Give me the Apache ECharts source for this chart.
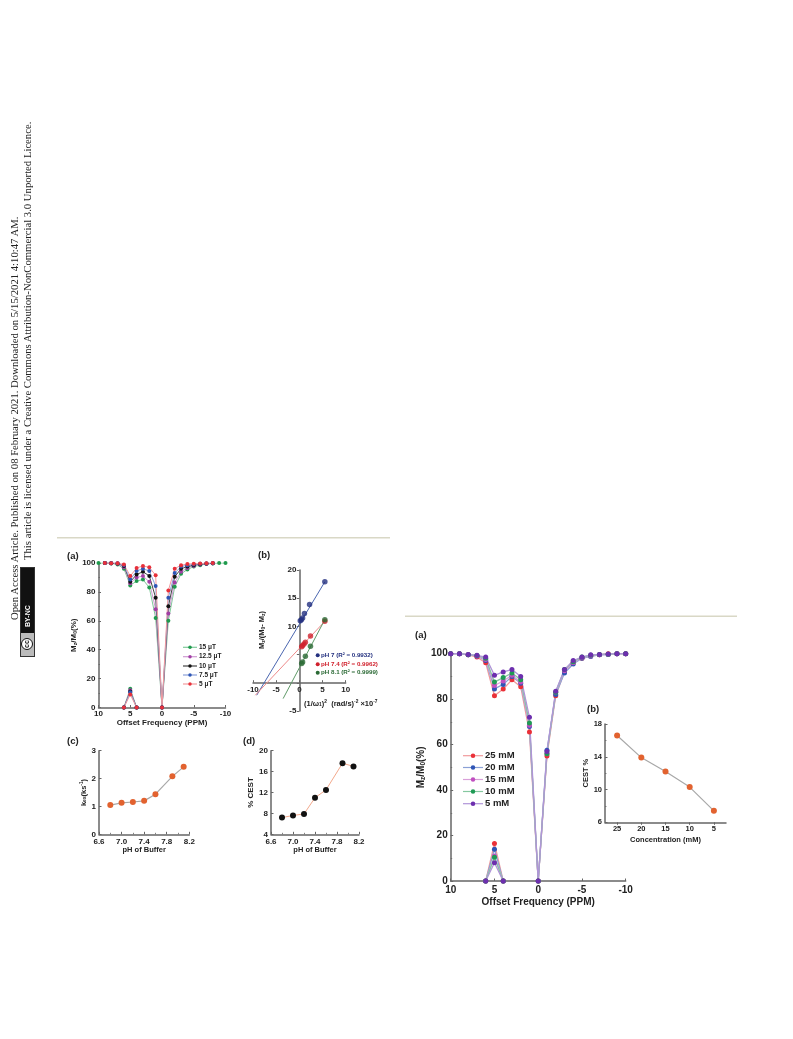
<!DOCTYPE html>
<html lang="en">
<head>
    <meta charset="UTF-8">
    <title>CEST figures</title>
    <script src="https://cdn.jsdelivr.net/npm/echarts@6/dist/echarts.min.js"></script>
    <style>
        html, body { margin: 0; padding: 0; background: #fff; }
        #container { width: 793px; height: 1039px; filter: blur(0.7px); }
        .side { position: absolute; left: 0; top: 0; white-space: nowrap; color: #222; font: 10.7px "Liberation Serif", serif; line-height: 12px; transform-origin: 0 0; }
        #line1 { transform: translate(7.5px, 620px) rotate(-90deg); }
        #line2 { transform: translate(21px, 560px) rotate(-90deg); }
        #badge { position: absolute; left: 20px; top: 567px; width: 15px; height: 90px; background: #111; box-sizing: border-box; border: 1px solid #333; }
        #badge b { position: absolute; left: 0; top: 33px; width: 13px; height: 20px; line-height: 13px; color: #fff; font: bold 7px/13px "Liberation Sans", sans-serif; text-align: left; white-space: nowrap; transform-origin: 0 0; transform: translate(0, 26px) rotate(-90deg); }
        #badge i { position: absolute; left: 0; top: 65px; width: 13px; height: 23px; background: #bbb; }
        #badge u { position: absolute; left: 0; top: 5px; width: 10px; height: 10px; border: 1.5px solid #111; border-radius: 50%; background: #fff; color: #111; text-decoration: none; font: normal 700 7px/10px "Liberation Sans", sans-serif; text-align: center; transform: rotate(-90deg); }
    </style>
</head>
<body>
<div id="container"></div>
<div class="side" id="line1">Open Access Article. Published on 08 February 2021. Downloaded on 5/15/2021 4:10:47 AM.</div>
<div class="side" id="line2">This article is licensed under a Creative Commons Attribution-NonCommercial 3.0 Unported Licence.</div>
<div id="badge"><b>BY-NC</b><i><u>cc</u></i></div>
<script>
    var FONT = '"Liberation Sans", Arial, sans-serif';

    // left figure (a), offset in ppm
    var offsets = [10, 9, 8, 7, 6, 5, 4, 3, 2, 1, 0, -1, -2, -3, -4, -5, -6, -7, -8, -9, -10];
    var spikeOffsets = [6, 5, 4];
    var uT15 = [100, 100, 99.7, 99, 96, 84.5, 87.5, 88.5, 83, 62, 0, 60, 83.5, 92.5, 95.5, 97.5, 98.5, 99.3, 99.7, 100, 100];
    var uT125 = [null, 100, 99.8, 99.5, 97, 86, 90, 91, 87, 68, 0, 65, 86.5, 94, 96.5, 98, 99, 99.5, 99.8, null, null];
    var uT10 = [null, 100, 99.8, 99.7, 98, 87, 92, 94, 91, 76, 0, 70, 90.5, 96, 97.5, 98.5, 99.2, 99.6, 99.8, null, null];
    var uT75 = [null, 100, 99.9, 99.8, 98.5, 88.5, 94.5, 96, 94.5, 84, 0, 76, 93, 97.5, 98.5, 99, 99.5, 99.7, 99.9, null, null];
    var uT5 = [null, 100, 99.9, 99.9, 99, 91, 96.5, 98, 97, 91.5, 0, 81, 96, 98.5, 99.3, 99.5, 99.7, 99.8, 100, null, null];
    var uTSpike15 = [0, 13, 0];
    var uTSpike125 = [0, 12, 0];
    var uTSpike10 = [0, 11, 0];
    var uTSpike75 = [0, 10.5, 0];
    var uTSpike5 = [0, 9, 0];

    // left figure (b), fits and points
    var ph7x = [0.2, 0.45, 0.7, 1.1, 2.2, 5.5];
    var ph7y = [11, 11.2, 11.5, 12.3, 13.9, 17.9];
    var ph74x = [0.5, 0.7, 1, 1.3, 2.4, 5.5];
    var ph74y = [6.4, 6.6, 6.9, 7.2, 8.3, 10.9];
    var ph81x = [0.5, 0.7, 1.3, 2.4, 5.5];
    var ph81y = [3.4, 3.7, 4.7, 6.5, 11.2];
    var ph7fit = [[-9.2, -2.2], [5.5, 17.9]];
    var ph74fit = [[-9.5, -2.2], [5.5, 10.9]];
    var ph81fit = [[-3.5, -2.8], [5.5, 11.2]];

    // left figures (c) and (d)
    var phBuffer = [6.8, 7.0, 7.2, 7.4, 7.6, 7.9, 8.1];
    var kex = [1.05, 1.13, 1.16, 1.2, 1.44, 2.08, 2.42];
    var cest = [7.2, 7.6, 7.9, 11, 12.5, 17.6, 17];

    // right figure (a)
    var mM25 = [100, 100, 99.5, 98.5, 96, 81.5, 84.5, 88.5, 85.5, 65.5, 0, 55, 81.5, 92, 96, 98, 99, 99.5, 100, 100, 100];
    var mM20 = [100, 100, 99.5, 99, 97, 84.5, 86.5, 90, 87, 68, 0, 57.5, 82, 91.5, 95.5, 98, 98.8, 99.5, 99.6, 100, 100];
    var mM15 = [100, 100, 99.5, 99, 97.5, 86, 88, 90.5, 87.5, 68.5, 0, 56, 83, 92.5, 96, 98.3, 99, 99.5, 99.7, 100, 100];
    var mM10 = [100, 100, 99.5, 99.2, 98, 87.5, 89.5, 91.5, 88.5, 69.5, 0, 56, 83, 93, 96.5, 98.5, 99.3, 99.6, 99.8, 100, 100];
    var mM5 = [100, 100, 99.6, 99.3, 98.5, 90.5, 92, 93, 90, 72, 0, 57, 83.5, 93, 97, 98.5, 99.5, 99.7, 99.9, 100, 100];
    var mMSpike25 = [0, 16.5, 0];
    var mMSpike20 = [0, 14, 0];
    var mMSpike15 = [0, 11, 0];
    var mMSpike10 = [0, 10.5, 0];
    var mMSpike5 = [0, 8, 0];

    // right figure (b)
    var concLabels = ['25', '20', '15', '10', '5'];
    var concCest = [16.6, 13.9, 12.2, 10.3, 7.4];

    var AXIS = '#666';
    var INK = '#222';

    function zip(xs, ys) {
        return xs.map(function (x, i) { return [x, ys[i]]; });
    }

    function axisBase(size, extra) {
        var a = {
            type: 'value',
            splitLine: { show: false },
            axisLine: { show: true, onZero: false, lineStyle: { color: AXIS, width: 1.5 } },
            axisTick: { show: true, inside: true, length: 2.5, lineStyle: { color: AXIS, width: 1 } },
            minorTick: { show: false },
            axisLabel: { color: INK, fontFamily: FONT, fontWeight: 'bold', fontSize: size, margin: 3, showMinLabel: true, showMaxLabel: true },
            nameTextStyle: { color: INK, fontFamily: FONT, fontWeight: 'bold', fontSize: size }
        };
        for (var k in extra) a[k] = extra[k];
        return a;
    }

    function minor(n) {
        return { show: true, splitNumber: n, length: 1.5, lineStyle: { color: AXIS, width: 0.8 } };
    }

    function richStyles(size) {
        return {
            t: { fill: INK, color: INK, fontFamily: FONT, fontWeight: 'bold', fontSize: size },
            s: { fill: INK, color: INK, fontFamily: FONT, fontWeight: 'bold', fontSize: size * 0.65, verticalAlign: 'bottom', padding: [size * 0.4, 0, 0, 0] },
            u: { fill: INK, color: INK, fontFamily: FONT, fontWeight: 'bold', fontSize: size * 0.65, verticalAlign: 'top', padding: [0, 0, size * 0.4, 0] }
        };
    }

    function richName(size) {
        return { color: INK, fontFamily: FONT, fontWeight: 'bold', fontSize: size, rich: richStyles(size) };
    }

    function oneDecimal(v) {
        return v.toFixed(1);
    }

    var grids = [
        { left: 98.5, top: 563, width: 127, height: 144.5 },
        { left: 253, top: 570, width: 92.7, height: 141 },
        { left: 99, top: 750.7, width: 90.3, height: 83.6 },
        { left: 271, top: 750.7, width: 88, height: 83.6 },
        { left: 450.7, top: 653.7, width: 175, height: 227.3 },
        { left: 605, top: 724, width: 121, height: 98.3 }
    ];

    var xAxes = [
        axisBase(8, {
            gridIndex: 0, min: -10, max: 10, interval: 5, inverse: true,
            axisLabel: { color: INK, fontFamily: FONT, fontWeight: 'bold', fontSize: 8, margin: 2 },
            name: 'Offset Frequency (PPM)', nameLocation: 'middle', nameGap: 11
        }),
        axisBase(8, {
            gridIndex: 1, min: -10, max: 10, interval: 5, position: 'bottom', offset: -28.3
        }),
        axisBase(7.5, {
            gridIndex: 2, min: 6.6, max: 8.2, interval: 0.4, minorTick: minor(2),
            axisLabel: { color: INK, fontFamily: FONT, fontWeight: 'bold', fontSize: 8, margin: 3, formatter: oneDecimal },
            name: 'pH of Buffer', nameLocation: 'middle', nameGap: 12
        }),
        axisBase(7.5, {
            gridIndex: 3, min: 6.6, max: 8.2, interval: 0.4, minorTick: minor(2),
            axisLabel: { color: INK, fontFamily: FONT, fontWeight: 'bold', fontSize: 8, margin: 3, formatter: oneDecimal },
            name: 'pH of Buffer', nameLocation: 'middle', nameGap: 12
        }),
        axisBase(10, {
            gridIndex: 4, min: -10, max: 10, interval: 5, inverse: true,
            axisLabel: { color: INK, fontFamily: FONT, fontWeight: 'bold', fontSize: 10, margin: 4 },
            name: 'Offset Frequency (PPM)', nameLocation: 'middle', nameGap: 16.5
        }),
        axisBase(7.5, {
            gridIndex: 5, type: 'category', data: concLabels,
            axisTick: { show: true, alignWithLabel: true, length: 2.5, lineStyle: { color: AXIS } },
            name: 'Concentration (mM)', nameLocation: 'middle', nameGap: 14
        })
    ];

    var yAxes = [
        axisBase(8, {
            gridIndex: 0, min: 0, max: 100, interval: 20, minorTick: minor(2),
            name: '{t|M}{s|z}{t|/M}{s|0}{t|(%)}', nameLocation: 'middle', nameGap: 14, nameTextStyle: richName(8)
        }),
        axisBase(8, {
            gridIndex: 1, min: -5, max: 20, interval: 5,
            position: 'left', offset: -46.35,
            axisTick: { show: true, inside: false, length: 2.5, lineStyle: { color: AXIS, width: 1 } },
            axisLabel: {
                color: INK, fontFamily: FONT, fontWeight: 'bold', fontSize: 8, margin: 3,
                formatter: function (v) { return v === 0 || v === 5 ? '' : String(v); }
            }
        }),
        axisBase(8, {
            gridIndex: 2, min: 0, max: 3, interval: 1,
            name: '{t|k}{s|ex}{t|(ks}{u|-1}{t|)}', nameLocation: 'middle', nameGap: 10, nameTextStyle: richName(7.5)
        }),
        axisBase(8, {
            gridIndex: 3, min: 4, max: 20, interval: 4,
            name: '% CEST', nameLocation: 'middle', nameGap: 14
        }),
        axisBase(10, {
            gridIndex: 4, min: 0, max: 100, interval: 20, minorTick: minor(2),
            name: '{t|M}{s|z}{t|/M}{s|0}{t|(%)}', nameLocation: 'middle', nameGap: 22, nameTextStyle: richName(10)
        }),
        axisBase(7.5, {
            gridIndex: 5, min: 6, max: 18, interval: 4, minorTick: minor(2),
            name: 'CEST %', nameLocation: 'middle', nameGap: 13
        })
    ];

    function line(name, axis, data, color, lineColor, size, width) {
        return {
            name: name, type: 'line', xAxisIndex: axis, yAxisIndex: axis, data: data,
            symbol: 'circle', symbolSize: size, showSymbol: true, connectNulls: false,
            itemStyle: { color: color },
            lineStyle: { color: lineColor, width: width },
            animation: false, z: 3
        };
    }

    var graphics = [
        { type: 'rect', shape: { x: 57, y: 537, width: 333, height: 1.6 }, style: { fill: '#d9d8c6' }, silent: true },
        { type: 'rect', shape: { x: 405, y: 615.5, width: 332, height: 1.6 }, style: { fill: '#d9d8c6' }, silent: true },
        tag('(a)', 67, 556, 9.5),
        tag('(b)', 258, 555.5, 9.5),
        tag('(c)', 67, 741, 9.5),
        tag('(d)', 243, 741, 9.5),
        tag('(a)', 415, 635, 9.5),
        tag('(b)', 587, 709, 9.5),
        {
            type: 'text', x: 262, y: 630, rotation: Math.PI / 2, silent: true,
            style: { text: '{t|M}{s|z}{t|/(M}{s|0}{t|- M}{s|z}{t|)}', rich: richStyles(7.5), align: 'center', verticalAlign: 'middle' }
        },
        {
            type: 'text', x: 304, y: 703.5, silent: true,
            style: { text: '{t|(1/ω}{s|1}{t|)}{u|2}{t|  (rad/s)}{u|-2}{t| ×10}{u|-7}', rich: richStyles(7.5), verticalAlign: 'middle' }
        }
    ];

    function tag(text, x, cy, size) {
        return { type: 'text', x: x, y: cy, silent: true,
            style: { text: text, fill: INK, font: 'bold ' + size + 'px ' + FONT, verticalAlign: 'middle' } };
    }

    // key rows are placed by hand so the text sits tight against the sample
    function keyRow(x, y, lineW, lineColor, color, size, text, fontSize, textColor) {
        if (lineW > 0) {
            graphics.push({ type: 'line', silent: true, shape: { x1: x, y1: y, x2: x + lineW, y2: y }, style: { stroke: lineColor, lineWidth: 1.2 } });
        }
        graphics.push({ type: 'circle', silent: true, z: 5, shape: { cx: x + lineW / 2, cy: y, r: size / 2 }, style: { fill: color } });
        graphics.push({ type: 'text', silent: true, x: x + lineW + (lineW > 0 ? 2 : 3.3), y: y,
            style: { text: text, fill: textColor || INK, font: 'bold ' + fontSize + 'px ' + FONT, verticalAlign: 'middle' } });
    }

    var series = [];
    [
        ['15 μT', uT15, uTSpike15, '#1f9a4d', '#7fca9a', 647.3],
        ['12.5 μT', uT125, uTSpike125, '#a13fa5', '#cf9ad2', 656.7],
        ['10 μT', uT10, uTSpike10, '#111111', '#444444', 666],
        ['7.5 μT', uT75, uTSpike75, '#2d55b5', '#8aa0d8', 675],
        ['5 μT', uT5, uTSpike5, '#e8303a', '#f29a9e', 684]
    ].forEach(function (s) {
        series.push(line(s[0], 0, zip(offsets, s[1]), s[3], s[4], 4, 1));
        series.push(line(s[0], 0, zip(spikeOffsets, s[2]), s[3], s[4], 4, 1));
        keyRow(183, s[5], 14, s[4], s[3], 3.5, s[0], 6.5);
    });

    [
        ['pH 7', ph7x, ph7y, ph7fit, '#23307f', '#4a66b0', 655.3, '0.9932'],
        ['pH 7.4', ph74x, ph74y, ph74fit, '#d0202c', '#ee8a8a', 664.3, '0.9962'],
        ['pH 8.1', ph81x, ph81y, ph81fit, '#2b6a35', '#5f9a68', 672.7, '0.9999']
    ].forEach(function (s) {
        series.push({
            name: s[0], type: 'scatter', xAxisIndex: 1, yAxisIndex: 1, data: zip(s[1], s[2]),
            symbol: 'circle', symbolSize: 5.5, itemStyle: { color: s[4] }, animation: false, z: 4
        });
        series.push({
            type: 'line', xAxisIndex: 1, yAxisIndex: 1, data: s[3], showSymbol: false, symbol: 'none',
            lineStyle: { color: s[5], width: 1 }, animation: false, z: 3
        });
        keyRow(317.7, s[6], 0, s[4], s[4], 4, s[0] + ' (R² = ' + s[7] + ')', 6.2, s[4]);
    });

    series.push(line('kex', 2, zip(phBuffer, kex), '#e2622f', '#a8a8a8', 6, 1.2));
    series.push(line('cest', 3, zip(phBuffer, cest), '#111111', '#f3a98c', 6, 1));

    [
        ['25 mM', mM25, mMSpike25, '#ea3038', '#f19a9c', 755.7],
        ['20 mM', mM20, mMSpike20, '#2f55b5', '#8ba1d6', 767.5],
        ['15 mM', mM15, mMSpike15, '#c04fc0', '#d9a0d9', 779.5],
        ['10 mM', mM10, mMSpike10, '#1f9a55', '#86c8a0', 791.5],
        ['5 mM', mM5, mMSpike5, '#6d2fae', '#b095d8', 803.7]
    ].forEach(function (s) {
        series.push(line(s[0], 4, zip(offsets, s[1]), s[3], s[4], 5, 1.3));
        series.push(line(s[0], 4, zip(spikeOffsets, s[2]), s[3], s[4], 5, 1.3));
        keyRow(463, s[5], 20, s[4], s[3], 4.5, s[0], 9.5);
    });

    series.push(line('conc', 5, concCest, '#e2622f', '#a8a8a8', 6, 1.2));

    var chart = echarts.init(document.getElementById('container'));
    chart.setOption({
        animation: false,
        backgroundColor: '#fff',
        grid: grids,
        xAxis: xAxes,
        yAxis: yAxes,
        series: series,
        graphic: graphics
    });
</script>
</body>
</html>
